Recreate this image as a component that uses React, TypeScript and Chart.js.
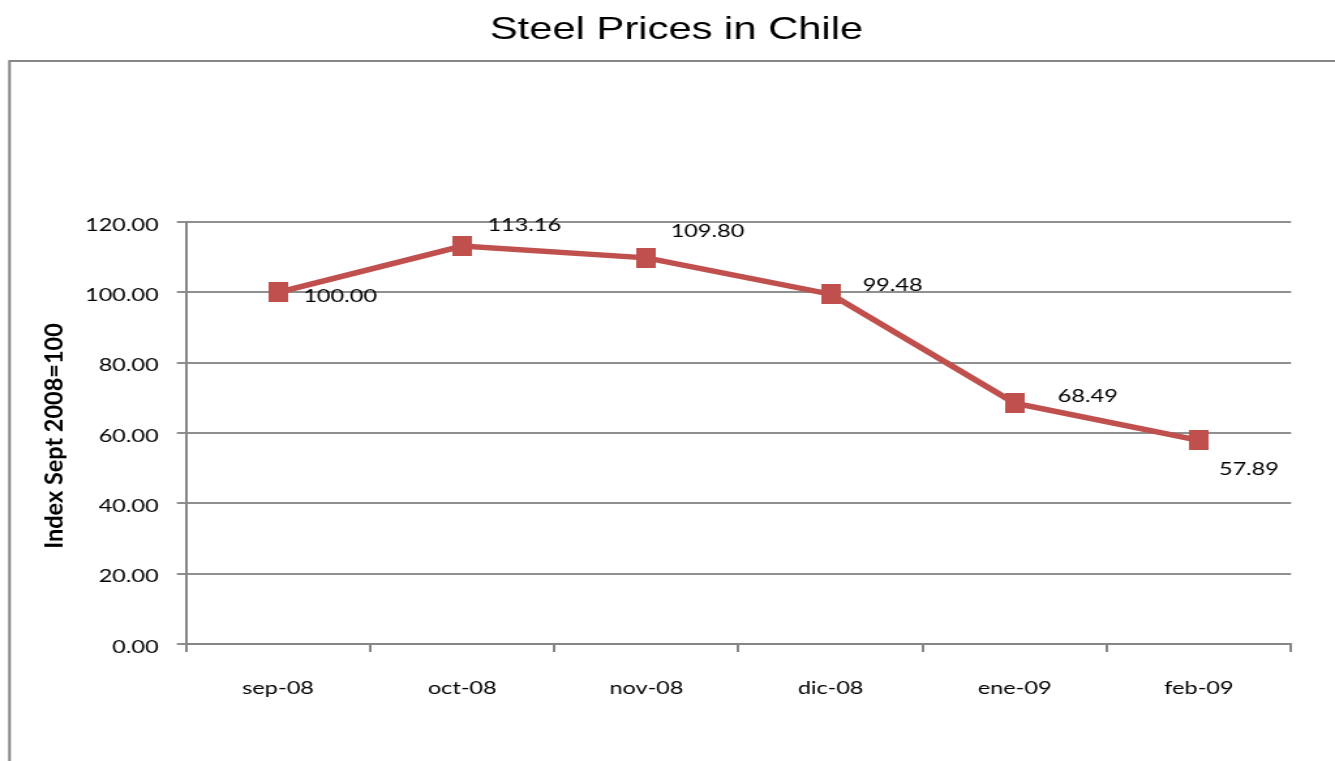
import React, { useEffect, useRef } from 'react';
import { Chart, registerables } from 'chart.js';

Chart.register(...registerables);

// ---- data ----
const categories = ['sep-08', 'oct-08', 'nov-08', 'dic-08', 'ene-09', 'feb-09'];
const priceIndex = [100.0, 113.16, 109.8, 99.48, 68.49, 57.89];
const yTicks = [0, 20, 40, 60, 80, 100, 120];

// ---- texts ----
const CHART_TITLE = 'Steel Prices in Chile';
const Y_TITLE = 'Index Sept 2008=100';

// ---- styling / label placement (screen px offsets from point to label centre) ----
const labelDX = [62, 62, 61, 62, 73, 50];
const labelDY = [3, -22, -27, -10, -8, 28];

const CW = 1024; // internal canvas width
const CH = 761;
const SX = 1335 / CW; // horizontal stretch applied by CSS
const RED = '#C0504D';
const AXIS = '#868686';
const GRID = '#8f8f8f';
const FONT = 'Lato, "Open Sans", sans-serif';

const framePlugin = {
  id: 'frame',
  beforeDraw(chart: any) {
    const ctx = chart.ctx;
    ctx.save();
    ctx.fillStyle = '#ffffff';
    ctx.fillRect(0, 0, chart.width, chart.height);
    ctx.strokeStyle = AXIS;
    ctx.lineWidth = 2;
    ctx.strokeRect(7.3, 61, 1200, 900);
    ctx.fillStyle = '#000000';
    ctx.font = '32px "Liberation Sans", Arial, sans-serif';
    ctx.textAlign = 'center';
    ctx.textBaseline = 'alphabetic';
    ctx.fillText(CHART_TITLE, 676.5 / SX, 39);
    ctx.restore();
  },
  afterDatasetsDraw(chart: any) {
    const ctx = chart.ctx;
    const meta = chart.getDatasetMeta(0);
    ctx.save();
    ctx.fillStyle = '#000000';
    ctx.font = `18px ${FONT}`;
    ctx.textAlign = 'center';
    ctx.textBaseline = 'alphabetic';
    meta.data.forEach((pt: any, i: number) => {
      ctx.fillText(priceIndex[i].toFixed(2), pt.x + labelDX[i] / SX, pt.y + labelDY[i] + 6.45);
    });
    // rotated y-axis title, stretched along its length
    const ya = chart.scales.y;
    const cy = (ya.top + ya.bottom) / 2 + 3;
    ctx.translate(62 / SX, cy);
    ctx.rotate(-Math.PI / 2);
    ctx.scale(SX, 1);
    ctx.font = `bold 18px ${FONT}`;
    ctx.fillText(Y_TITLE, 0, 0);
    ctx.restore();
  },
};

export default function App() {
  const ref = useRef<HTMLCanvasElement | null>(null);

  useEffect(() => {
    if (!ref.current) return;
    const marker = document.createElement('canvas');
    marker.width = Math.round(20 / SX);
    marker.height = 20;
    const mctx = marker.getContext('2d')!;
    mctx.fillStyle = RED;
    mctx.fillRect(0, 0, marker.width, marker.height);

    const chart = new Chart(ref.current, {
      type: 'line',
      data: {
        labels: categories,
        datasets: [
          {
            data: priceIndex,
            borderColor: RED,
            backgroundColor: RED,
            borderWidth: 5.5,
            pointStyle: marker as any,
            pointRadius: 8,
            tension: 0,
            fill: false,
          },
        ],
      },
      options: {
        responsive: false,
        devicePixelRatio: 1,
        animation: false,
        layout: { padding: { top: 222, right: CW - 1291 / SX, bottom: 0, left: 0 } },
        plugins: {
          legend: { display: false },
          tooltip: { enabled: false },
          title: { display: false },
        },
        scales: {
          x: {
            offset: true,
            grid: {
              offset: true,
              drawOnChartArea: false,
              drawTicks: true,
              tickLength: 8,
              color: AXIS,
              lineWidth: 2,
            },
            border: { display: true, color: AXIS, width: 2 },
            ticks: { color: '#000', font: { family: FONT, size: 18 }, padding: 25, maxRotation: 0 },
            afterFit: (s: any) => {
              s.height = CH - 644;
            },
          },
          y: {
            min: 0,
            max: 120,
            afterBuildTicks: (s: any) => {
              s.ticks = yTicks.map((v) => ({ value: v }));
            },
            grid: { color: GRID, lineWidth: 2, tickLength: 7, drawTicks: true },
            border: { display: true, color: AXIS, width: 2 },
            ticks: {
              color: '#000',
              font: { family: FONT, size: 18, lineHeight: '6px' },
              padding: 14,
              callback: (v: any) => ['', Number(v).toFixed(2)],
            },
            afterFit: (s: any) => {
              s.width = 186 / SX;
            },
          },
        },
      },
      plugins: [framePlugin],
    });
    return () => chart.destroy();
  }, []);

  return (
    <div style={{ position: 'fixed', left: 0, top: 0, width: 1335, height: 761, background: '#fff' }}>
      <canvas
        ref={ref}
        width={CW}
        height={CH}
        style={{ display: 'block', width: '1335px', height: '761px' }}
      />
    </div>
  );
}
